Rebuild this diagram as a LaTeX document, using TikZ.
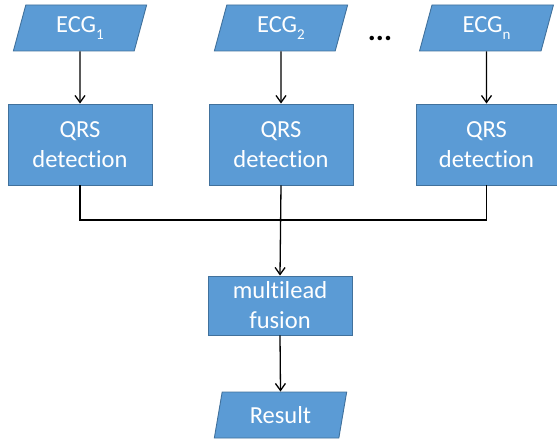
\documentclass[tikz,border=0pt]{standalone}
\usepackage{fontspec}
\setmainfont{Carlito}[Ligatures=NoCommon]
\usetikzlibrary{shapes.geometric,arrows.meta}
\definecolor{boxfill}{HTML}{5B9BD5}
\definecolor{boxline}{HTML}{41719C}
\newcommand{\lowsub}[1]{\raisebox{-0.28em}{\fontsize{15}{15}\selectfont #1}}
\begin{document}
\begin{tikzpicture}[x=1pt,y=-1pt,
  blk/.style={draw=boxline,fill=boxfill,line width=0.9pt,text=white,inner sep=0pt,
    font=\fontsize{24.5}{30}\selectfont,align=center},
  stepbox/.style={blk,rectangle,minimum width=144pt,minimum height=81pt},
  para/.style={blk,trapezium,trapezium left angle=76.5,trapezium right angle=103.5,
    trapezium stretches=true,minimum width=134pt,minimum height=46pt},
  arr/.style={line width=1.3pt,-{Straight Barb[length=7pt,width=10pt]}},
  ln/.style={line width=1.3pt}]
\useasboundingbox (0,0) rectangle (557,441);
\node[para] (e1) at (80,28) {ECG\lowsub{1}};
\node[para] (e2) at (281,28) {ECG\lowsub{2}};
\node[para] (e3) at (486.5,28) {ECG\lowsub{n}};
\node[font=\fontsize{30}{30}\bfseries] (dots) at (380,38) {...};
\node[stepbox] (q1) at (80,144.5) {QRS\\detection};
\node[stepbox] (q2) at (281,144.5) {QRS\\detection};
\node[stepbox,minimum width=141pt] (q3) at (486.5,144.5) {QRS\\detection};
\node[blk,rectangle,minimum width=144pt,minimum height=59pt] (mf) at (280,305.5) {multilead\\fusion};
\node[para,minimum width=133pt] (res) at (280.5,415) {Result};
\coordinate (j) at (281,220);
\draw[arr] (e1.south) -- (q1.north);
\draw[arr] (e2.south) -- (q2.north);
\draw[arr] (e3.south) -- (q3.north);
\draw[ln] (q1.south) |- (j);
\draw[ln] (q3.south) |- (j);
\draw[arr] (q2.south) -- (mf.north);
\draw[arr] (mf.south) -- (res.north);
\end{tikzpicture}
\end{document}
